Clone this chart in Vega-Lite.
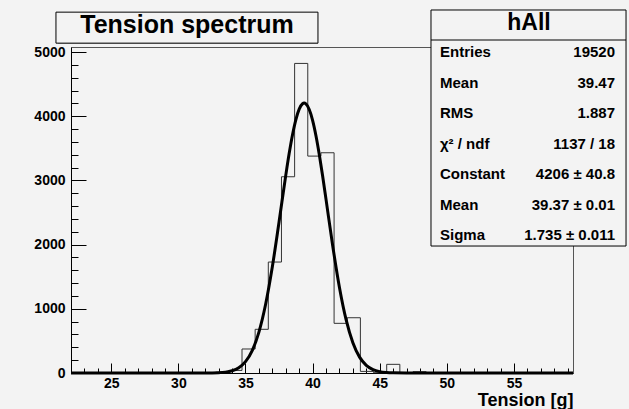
{
  "$schema": "https://vega.github.io/schema/vega-lite/v6.json",
  "width": 502,
  "height": 326,
  "autosize": {"type": "none"},
  "padding": {"left": 71, "top": 47, "right": 56, "bottom": 36},
  "background": "#f3f3f3",
  "config": {
    "font": "Liberation Sans",
    "view": {"stroke": "#555555", "strokeWidth": 1, "fill": "#f3f3f3"},
    "axis": {"grid": false, "tickColor": "#000000", "domainColor": "#000000", "labelColor": "#000000", "titleColor": "#000000", "labelFont": "Liberation Sans", "titleFont": "Liberation Sans"}
  },
  "datasets": {
    "hist": [
      {"x": 22.0, "y": 0}, {"x": 31.80, "y": 3}, {"x": 32.78, "y": 12}, {"x": 33.76, "y": 40},
      {"x": 34.74, "y": 374}, {"x": 35.72, "y": 681}, {"x": 36.70, "y": 1729}, {"x": 37.68, "y": 3058},
      {"x": 38.66, "y": 4824}, {"x": 39.64, "y": 3380}, {"x": 40.62, "y": 3432}, {"x": 41.60, "y": 774},
      {"x": 42.58, "y": 861}, {"x": 43.56, "y": 25}, {"x": 44.54, "y": 5}, {"x": 45.52, "y": 135},
      {"x": 46.50, "y": 5}, {"x": 47.48, "y": 20}, {"x": 48.46, "y": 0}, {"x": 59.24, "y": 0}
    ],
    "fit": [
      {"x": 22, "y": 0}, {"x": 30, "y": 0}, {"x": 32, "y": 0.5}, {"x": 33, "y": 5}, {"x": 33.5, "y": 13.7},
      {"x": 34, "y": 35}, {"x": 34.5, "y": 81.9}, {"x": 35, "y": 176.3}, {"x": 35.5, "y": 349.3},
      {"x": 36, "y": 637.6}, {"x": 36.5, "y": 1070.7}, {"x": 37, "y": 1654.5}, {"x": 37.5, "y": 2353.1},
      {"x": 38, "y": 3079.3}, {"x": 38.25, "y": 3415.0}, {"x": 38.5, "y": 3709.1}, {"x": 38.75, "y": 3945.9},
      {"x": 39, "y": 4111.4}, {"x": 39.25, "y": 4196}, {"x": 39.37, "y": 4206}, {"x": 39.5, "y": 4194},
      {"x": 39.75, "y": 4106.3}, {"x": 40, "y": 3937.7}, {"x": 40.25, "y": 3698.3}, {"x": 40.5, "y": 3402.3},
      {"x": 40.75, "y": 3065.5}, {"x": 41, "y": 2705.3}, {"x": 41.5, "y": 1979.7}, {"x": 42, "y": 1333.2},
      {"x": 42.5, "y": 826.3}, {"x": 43, "y": 471.3}, {"x": 43.5, "y": 247.5}, {"x": 44, "y": 119.5},
      {"x": 44.5, "y": 53.2}, {"x": 45, "y": 21.7}, {"x": 45.5, "y": 8.2}, {"x": 46, "y": 2.8},
      {"x": 47, "y": 0.3}, {"x": 48, "y": 0}, {"x": 59.4, "y": 0}
    ],
    "stats": [
      {"row": 0, "label": "Entries", "value": "19520"},
      {"row": 1, "label": "Mean", "value": "39.47"},
      {"row": 2, "label": "RMS", "value": "1.887"},
      {"row": 3, "label": "χ² / ndf", "value": "1137 / 18"},
      {"row": 4, "label": "Constant", "value": "4206 ± 40.8"},
      {"row": 5, "label": "Mean", "value": "39.37 ± 0.01"},
      {"row": 6, "label": "Sigma", "value": "1.735 ± 0.011"}
    ]
  },
  "resolve": {"scale": {"y": "independent"}, "axis": {"x": "independent", "y": "independent"}},
  "layer": [
    {
      "data": {"name": "hist"},
      "mark": {"type": "point", "opacity": 0},
      "encoding": {
        "x": {"field": "x", "type": "quantitative", "scale": {"domain": [22, 59.4], "nice": false, "zero": false},
          "axis": {"orient": "bottom", "values": [23,24,26,27,28,29,31,32,33,34,36,37,38,39,41,42,43,44,46,47,48,49,51,52,53,54,56,57,58,59], "tickSize": -5, "labels": false, "domain": false, "title": null}},
        "y": {"field": "y", "type": "quantitative", "scale": {"domain": [0, 5080], "nice": false, "zero": false},
          "axis": {"orient": "left", "values": [200,400,600,800,1200,1400,1600,1800,2200,2400,2600,2800,3200,3400,3600,3800,4200,4400,4600,4800], "tickSize": -7, "labels": false, "domain": false, "title": null}}
      }
    },
    {
      "data": {"name": "hist"},
      "mark": {"type": "line", "interpolate": "step-after", "stroke": "#333333", "strokeWidth": 1},
      "encoding": {
        "x": {"field": "x", "type": "quantitative", "scale": {"domain": [22, 59.4], "nice": false, "zero": false},
          "axis": {"orient": "bottom", "values": [25,30,35,40,45,50,55], "format": "d", "tickSize": -10, "labelFontSize": 14, "labelFontWeight": "bold", "labelPadding": 13,
            "title": "Tension [g]", "titleFontSize": 18, "titleFontWeight": "bold", "titleAnchor": "end", "titleAlign": "right", "titlePadding": 1}},
        "y": {"field": "y", "type": "quantitative", "scale": {"domain": [0, 5080], "nice": false, "zero": false},
          "axis": {"orient": "left", "values": [0,1000,2000,3000,4000,5000], "format": "d", "tickSize": -15, "labelFontSize": 14, "labelFontWeight": "bold", "labelPadding": 21, "title": null}}
      }
    },
    {
      "data": {"name": "fit"},
      "mark": {"type": "line", "interpolate": "monotone", "stroke": "#000000", "strokeWidth": 3},
      "encoding": {
        "x": {"field": "x", "type": "quantitative", "axis": null},
        "y": {"field": "y", "type": "quantitative", "scale": {"domain": [0, 5080], "nice": false, "zero": false}, "axis": null}
      }
    },
    {
      "data": {"values": [{}]},
      "mark": {"type": "rect", "fill": "#000000", "xOffset": 2, "yOffset": 2},
      "encoding": {
        "x": {"datum": 20.88, "type": "quantitative", "axis": null},
        "x2": {"datum": 40.40},
        "y": {"datum": 5623, "type": "quantitative", "scale": {"domain": [0, 5080], "nice": false, "zero": false}, "axis": null},
        "y2": {"datum": 5140}
      }
    },
    {
      "data": {"values": [{}]},
      "mark": {"type": "rect", "fill": "#f3f3f3", "stroke": "#000000", "strokeWidth": 1},
      "encoding": {
        "x": {"datum": 20.88, "type": "quantitative", "axis": null},
        "x2": {"datum": 40.40},
        "y": {"datum": 5623, "type": "quantitative", "scale": {"domain": [0, 5080], "nice": false, "zero": false}, "axis": null},
        "y2": {"datum": 5140}
      }
    },
    {
      "data": {"values": [{}]},
      "mark": {"type": "text", "text": "Tension spectrum", "fontSize": 25, "fontWeight": "bold", "align": "center", "baseline": "alphabetic", "color": "#000000"},
      "encoding": {
        "x": {"datum": 30.64, "type": "quantitative", "axis": null},
        "y": {"datum": 5296, "type": "quantitative", "scale": {"domain": [0, 5080], "nice": false, "zero": false}, "axis": null}
      }
    },
    {
      "data": {"values": [{}]},
      "mark": {"type": "rect", "fill": "#000000", "xOffset": 2, "yOffset": 2},
      "encoding": {
        "x": {"datum": 48.82, "type": "quantitative", "axis": null},
        "x2": {"datum": 63.35},
        "y": {"datum": -1.386, "type": "quantitative", "scale": {"domain": [10.504, -0.174], "nice": false, "zero": false}, "axis": null},
        "y2": {"datum": 6.345}
      }
    },
    {
      "data": {"values": [{}]},
      "mark": {"type": "rect", "fill": "#f3f3f3", "stroke": "#000000", "strokeWidth": 1},
      "encoding": {
        "x": {"datum": 48.82, "type": "quantitative", "axis": null},
        "x2": {"datum": 63.35},
        "y": {"datum": -1.386, "type": "quantitative", "scale": {"domain": [10.504, -0.174], "nice": false, "zero": false}, "axis": null},
        "y2": {"datum": 6.345}
      }
    },
    {
      "data": {"values": [{}]},
      "mark": {"type": "rule", "stroke": "#000000", "strokeWidth": 1},
      "encoding": {
        "x": {"datum": 48.82, "type": "quantitative", "axis": null},
        "x2": {"datum": 63.35},
        "y": {"datum": -0.403, "type": "quantitative", "scale": {"domain": [10.504, -0.174], "nice": false, "zero": false}, "axis": null}
      }
    },
    {
      "data": {"values": [{}]},
      "mark": {"type": "text", "text": "hAll", "fontSize": 23, "fontWeight": "bold", "align": "center", "baseline": "middle", "color": "#000000"},
      "encoding": {
        "x": {"datum": 56.12, "type": "quantitative", "axis": null},
        "y": {"datum": -0.976, "type": "quantitative", "scale": {"domain": [10.504, -0.174], "nice": false, "zero": false}, "axis": null}
      }
    },
    {
      "data": {"name": "stats"},
      "mark": {"type": "text", "fontSize": 15, "fontWeight": "bold", "align": "left", "baseline": "middle", "color": "#000000"},
      "encoding": {
        "text": {"field": "label"},
        "x": {"datum": 49.49, "type": "quantitative", "axis": null},
        "y": {"field": "row", "type": "quantitative", "scale": {"domain": [10.504, -0.174], "nice": false, "zero": false}, "axis": null}
      }
    },
    {
      "data": {"name": "stats"},
      "mark": {"type": "text", "fontSize": 15, "fontWeight": "bold", "align": "right", "baseline": "middle", "color": "#000000"},
      "encoding": {
        "text": {"field": "value"},
        "x": {"datum": 62.53, "type": "quantitative", "axis": null},
        "y": {"field": "row", "type": "quantitative", "scale": {"domain": [10.504, -0.174], "nice": false, "zero": false}, "axis": null}
      }
    }
  ]
}
